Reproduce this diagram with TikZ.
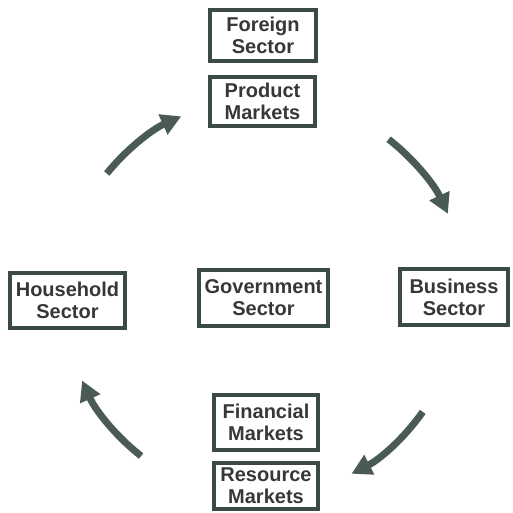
\documentclass[tikz,border=0pt]{standalone}
\usepackage{fontspec}
\setmainfont{Liberation Sans}
\usetikzlibrary{arrows.meta}
\definecolor{boxgreen}{HTML}{3B4A44}
\definecolor{inkgrey}{HTML}{353836}
\definecolor{arrowgreen}{HTML}{4A5B55}
\tikzset{
    sector/.style={draw=boxgreen, line width=4pt, align=center, inner sep=0pt,
        text=inkgrey, font=\fontsize{20}{22}\selectfont\bfseries},
    flow/.style={draw=arrowgreen, line width=7pt,
        -{Triangle[length=20pt,width=21pt]}}
}
\begin{document}
\begin{tikzpicture}[x=1pt,y=1pt]
    \useasboundingbox (0,0) rectangle (513,512);
    % the sectors and markets
    \node[sector, minimum width=106, minimum height=51] (foreign) at (263,476.5) {Foreign\\Sector};
    \node[sector, minimum width=105, minimum height=49] (product) at (262.5,410.5) {Product\\Markets};
    \node[sector, minimum width=115, minimum height=55] (household) at (67.5,211.5) {Household\\Sector};
    \node[sector, minimum width=129, minimum height=56] (government) at (263.5,214) {Government\\Sector};
    \node[sector, minimum width=108, minimum height=56] (business) at (454,215) {Business\\Sector};
    \node[sector, minimum width=104, minimum height=55] (financial) at (266,89.5) {Financial\\Markets};
    \node[sector, minimum width=104, minimum height=46] (resource) at (266,26) {Resource\\Markets};
    % circular flow round the government sector
    \coordinate (hub) at (263,212);
    \draw[flow] ([shift={(141:201)}]hub) arc[start angle=141, end angle=114, radius=201];
    \draw[flow] ([shift={(52:204)}]hub) arc[start angle=52, end angle=25, radius=204];
    \draw[flow] ([shift={(-35:195)}]hub) arc[start angle=-35, end angle=-63, radius=195];
    \draw[flow] ([shift={(-128:198)}]hub) arc[start angle=-128, end angle=-156, radius=198];
\end{tikzpicture}
\end{document}
